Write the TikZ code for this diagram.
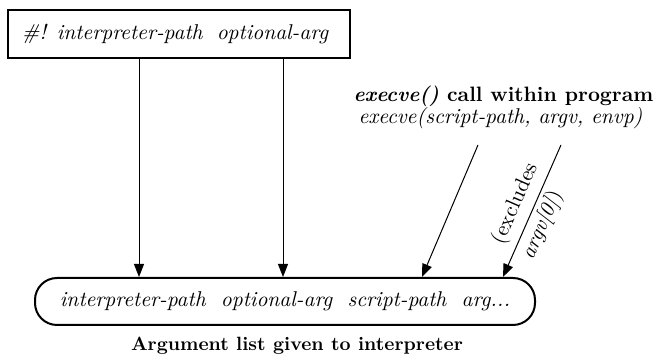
\documentclass[tikz,border=0pt]{standalone}
\usetikzlibrary{arrows.meta, positioning}
\newcommand{\figfont}{\fontsize{10.7}{12.8}\selectfont}

\begin{document}
\begin{tikzpicture}[
        x=1pt, y=1pt,
        scriptbox/.style={rectangle, draw, line width=1pt, minimum width=171pt, minimum height=24pt, text width=157pt, align=left, font=\figfont\itshape},
        arglist/.style={rectangle, draw, line width=1pt, rounded corners=11pt, minimum width=250pt, minimum height=23.5pt, font=\figfont\itshape},
        heading/.style={font=\fontsize{10.4}{12.5}\selectfont\bfseries},
        callsig/.style={font=\figfont\itshape},
        arrow/.style={-{Triangle[length=6.5pt, width=5pt]}, line width=0.5pt}
    ]
        \useasboundingbox (0,0) rectangle (327.5,181);

        % Script file and argument list
        \node[scriptbox] (shebang) at (89.5,164) {\#! interpreter-path\ \ optional-arg};
        \node[arglist] (arglist) at (142.5,30.25) {interpreter-path\ \ optional-arg\ \ script-path\ \ arg...};
        \node[heading, font=\fontsize{9.6}{11.5}\selectfont\bfseries, below=2pt of arglist, xshift=6pt] (argcaption) {Argument list given to interpreter};

        % execve() call
        \node[heading] (callhead) at (251.75,133) {\textit{execve()} call within program};
        \node[callsig, below=-6.5pt of callhead, xshift=-1.5pt] (callsig) {execve(script-path, argv, envp)};
        \coordinate (pathstart) at (239,108.5);
        \coordinate (argvstart) at (280.5,108.5);

        % Connections
        \draw[arrow] ([xshift=-20pt]shebang.south) -- ([xshift=-73pt]arglist.north);
        \draw[arrow] ([xshift=52pt]shebang.south) -- ([xshift=-1pt]arglist.north);
        \draw[arrow] (pathstart) -- ([xshift=68.5pt]arglist.north);
        \draw[arrow] (argvstart) -- node[sloped, above, pos=0.5, inner sep=3.5pt, font=\figfont] {(excludes} node[sloped, below, pos=0.56, inner sep=2pt, font=\figfont] {\textit{argv[0]})} ([xshift=109pt]arglist.north);

    \end{tikzpicture}
\end{document}
